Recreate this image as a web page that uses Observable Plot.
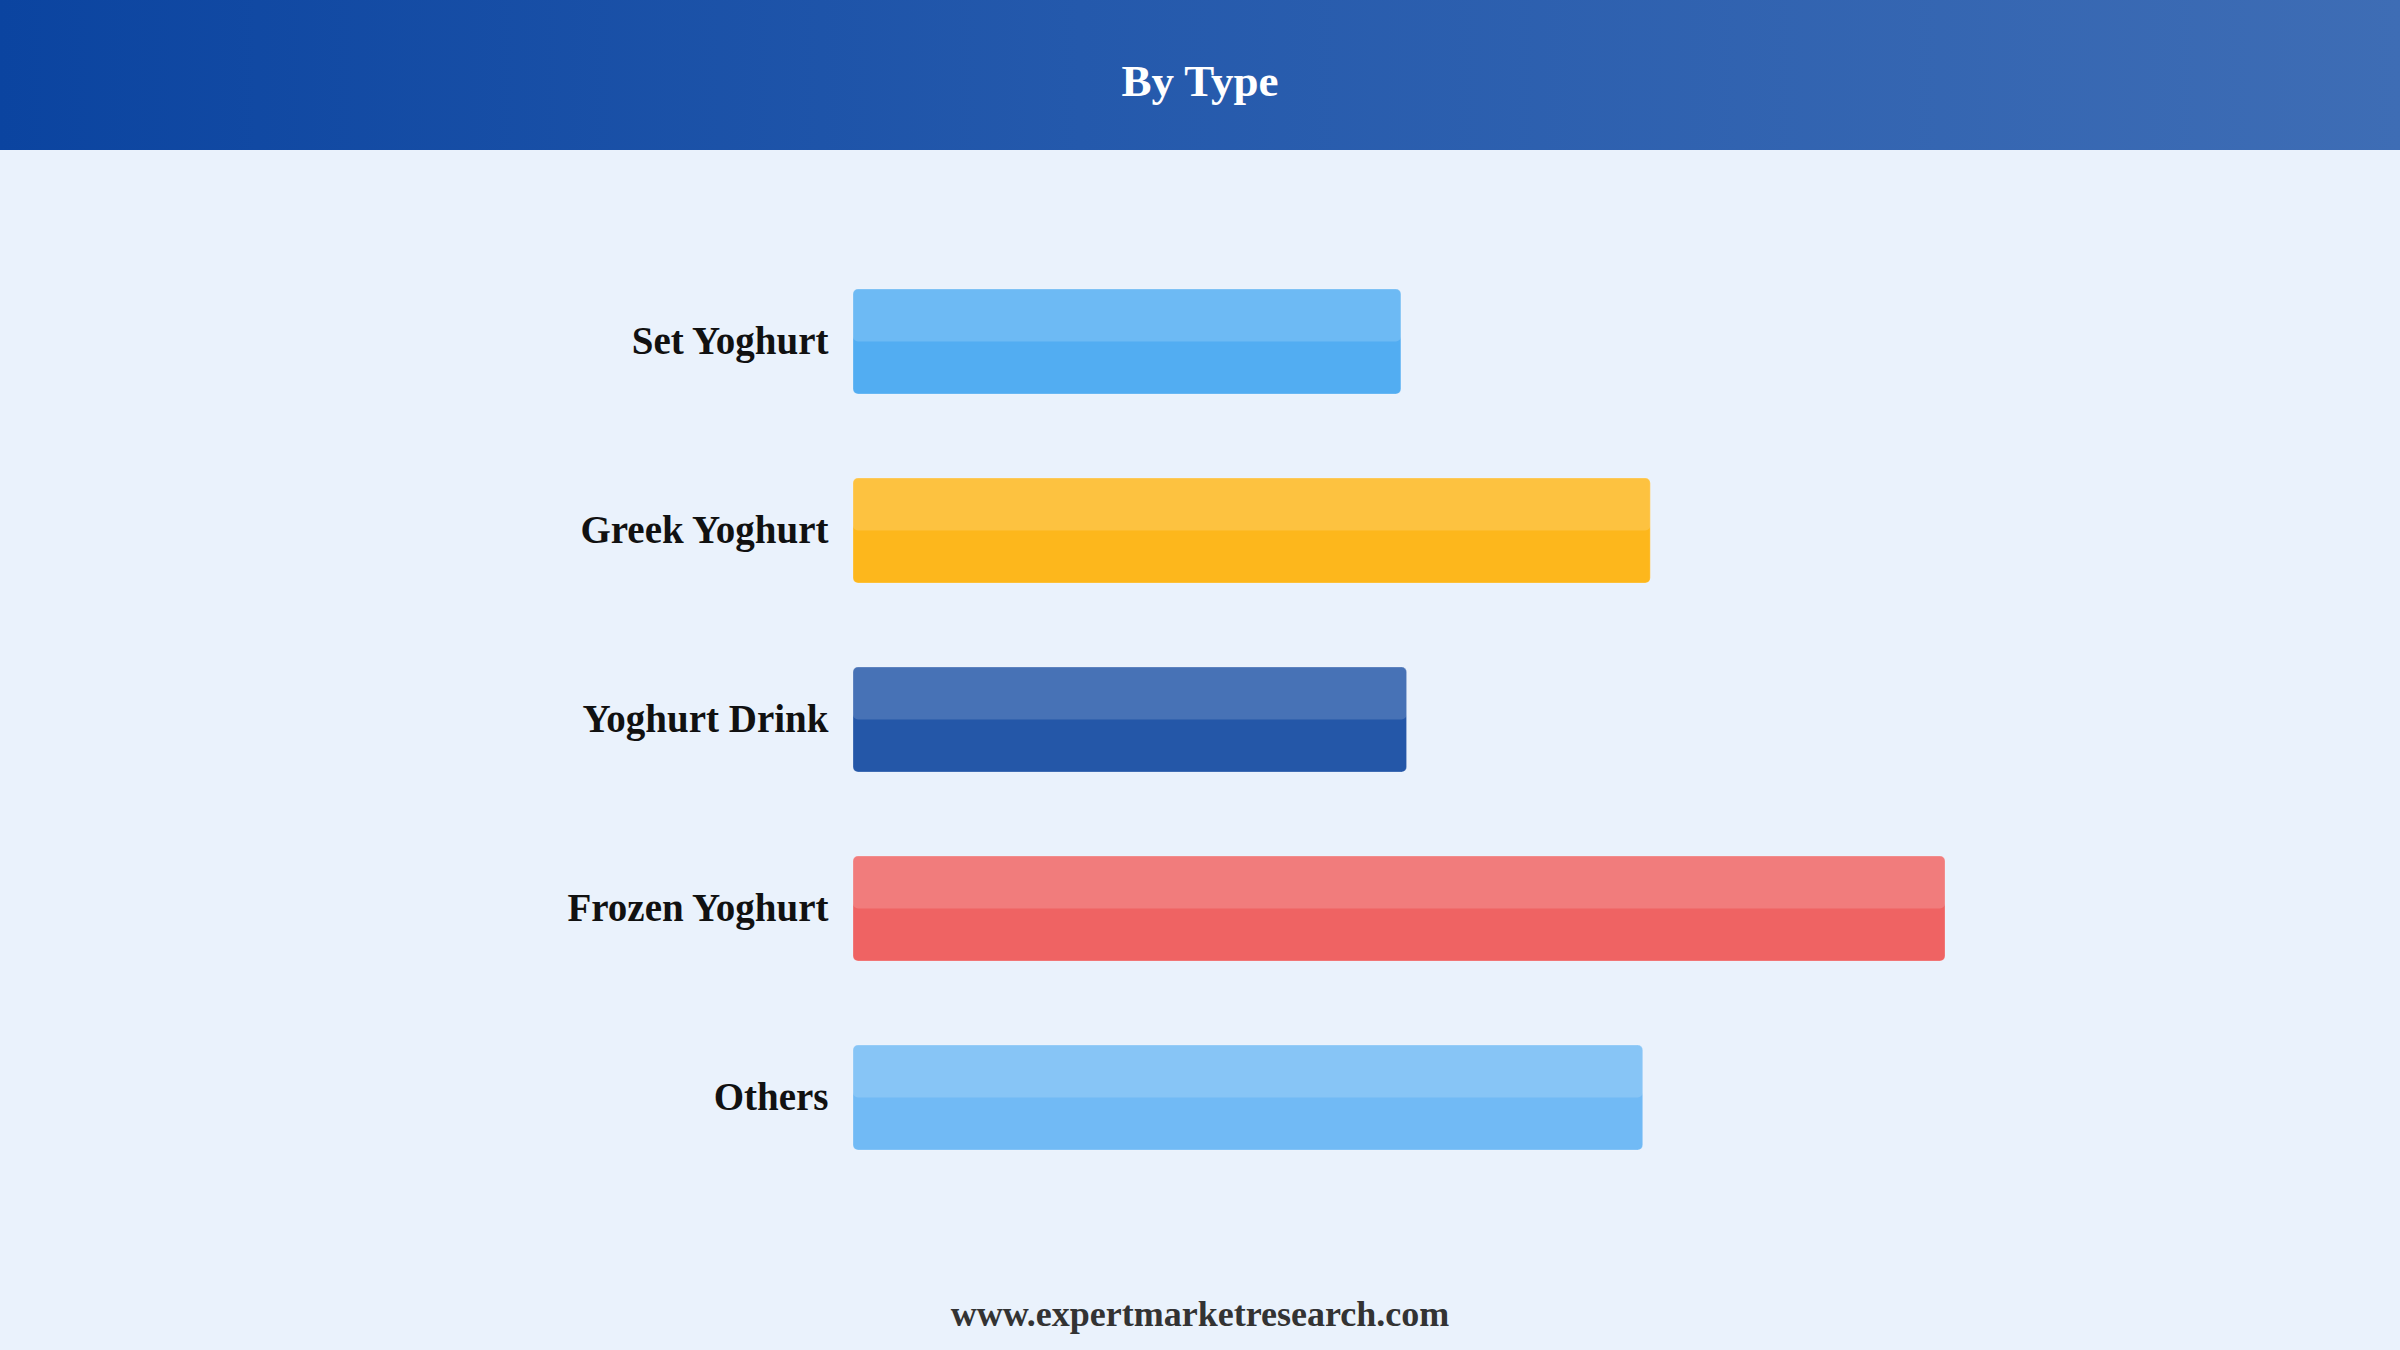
<!DOCTYPE html>
<html>
<head>
<meta charset="utf-8">
<script src="https://cdn.jsdelivr.net/npm/d3@7"></script>
<script src="https://cdn.jsdelivr.net/npm/@observablehq/plot@0.6"></script>
<style>
  html, body { margin: 0; padding: 0; }
  body { width: 2400px; height: 1350px; background: #EAF2FC; position: relative; overflow: hidden;
         font-family: "Liberation Serif", "Times New Roman", serif; }
  #header { position: absolute; left: 0; top: 0; width: 2400px; height: 150px;
            background: linear-gradient(to right, #0B44A0 0%, #2459AC 45%, #3E6DB5 100%); }
  #title { position: absolute; left: 0; width: 2400px; top: 59px; text-align: center;
           font-size: 45px; line-height: 45px; font-weight: bold; color: #ffffff; }
  #chart { position: absolute; left: 0; top: 150px; }
  #footer { position: absolute; left: 0; width: 2400px; top: 1296px; text-align: center;
            font-size: 36px; line-height: 36px; font-weight: bold; color: #333333; }
</style>
</head>
<body>
<div id="header"><div id="title">By Type</div></div>
<div id="chart"></div>
<div id="footer">www.expertmarketresearch.com</div>
<script>
const categories = ["Set Yoghurt", "Greek Yoghurt", "Yoghurt Drink", "Frozen Yoghurt", "Others"];
const values = [14.5, 21.1, 14.65, 28.9, 20.9];
const colors = ["#52ADF2", "#FDB71C", "#2457A8", "#EF6363", "#71BAF5"];

const data = categories.map((c, i) => ({category: c, value: values[i], color: colors[i]}));

const height = 1084;
const marginTop = 55;
const step = 189;
const bandwidth = 105;

const chart = Plot.plot({
  width: 2400,
  height,
  marginLeft: 853,
  marginRight: 455,
  marginTop,
  marginBottom: 0,
  style: {
    fontFamily: '"Liberation Serif", "Times New Roman", serif',
    fontSize: "39px",
    fontWeight: "bold",
    color: "#111111",
    background: "transparent",
    overflow: "visible"
  },
  x: {domain: [0, d3.max(values)], axis: null},
  y: {domain: categories, padding: 1 - bandwidth / step, round: false, label: null},
  marks: [
    Plot.barX(data, {y: "category", x: "value", fill: "color", rx: 5}),
    Plot.barX(data, {y: "category", x: "value", fill: "#ffffff", fillOpacity: 0.16, rx: 5, insetBottom: bandwidth / 2}),
    Plot.barX(data, {y: "category", x: "value", fill: "none", stroke: "#ffffff", strokeOpacity: 0.25, strokeWidth: 1, rx: 5}),
    Plot.axisY({tickSize: 0, tickPadding: 25, label: null})
  ]
});
document.getElementById("chart").appendChild(chart);
</script>
</body>
</html>
